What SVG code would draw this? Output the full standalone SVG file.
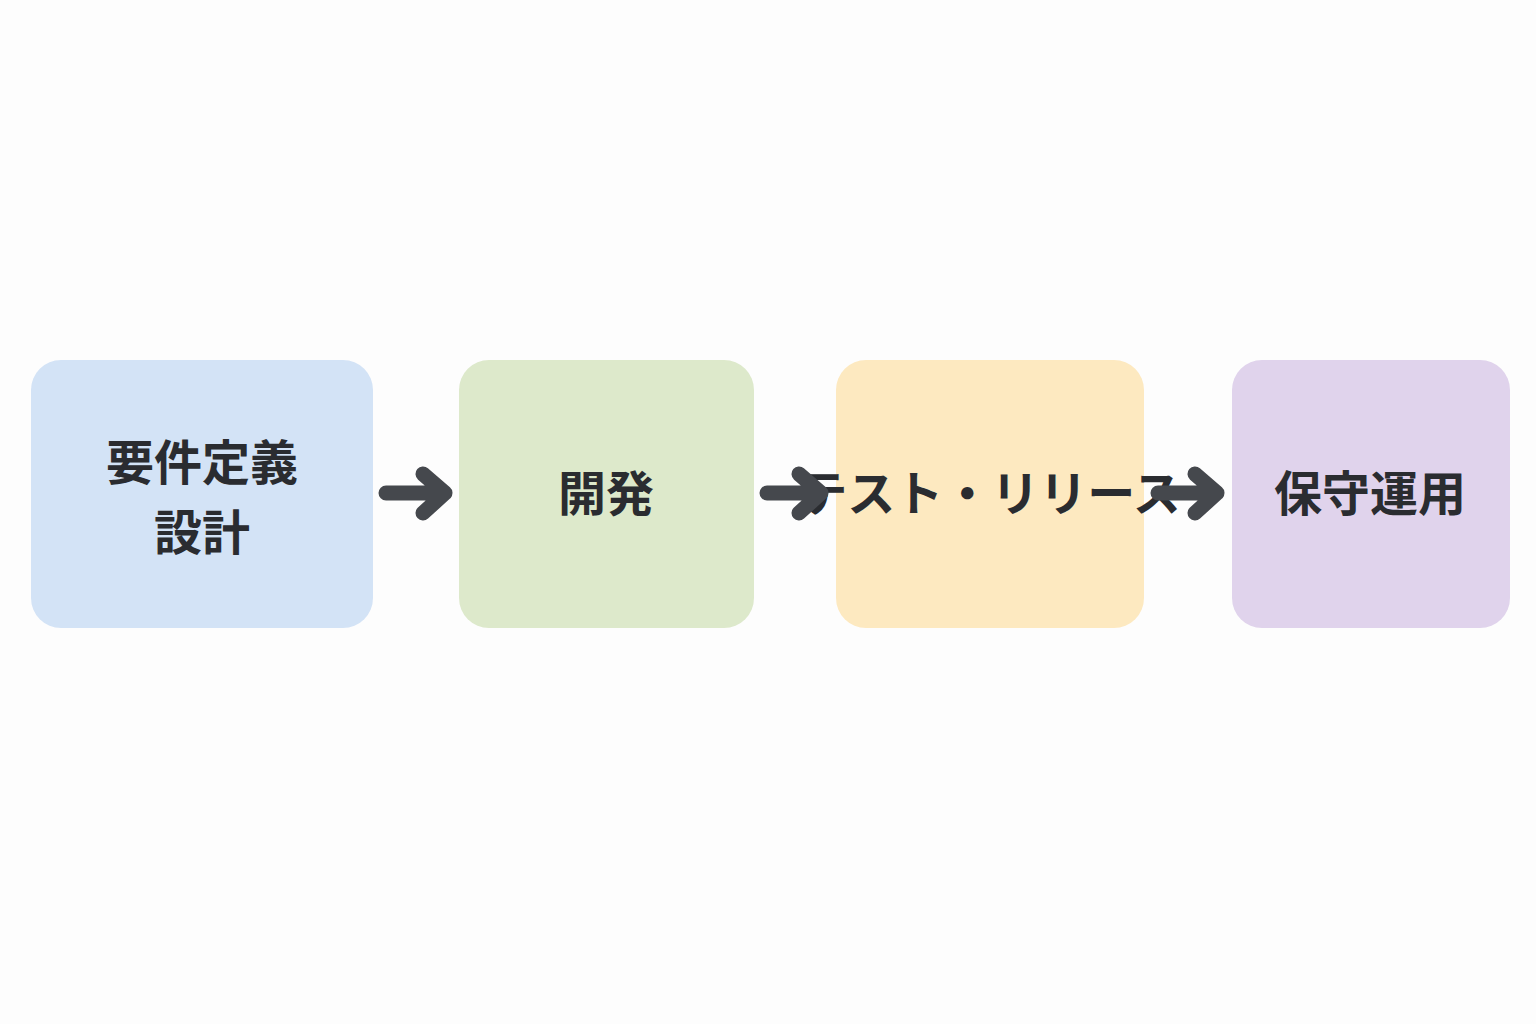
<svg xmlns="http://www.w3.org/2000/svg" width="1536" height="1024" viewBox="0 0 1536 1024">
<style>
.t{font-family:"Noto Sans CJK JP","Noto Sans CJK SC",sans-serif;font-weight:bold;font-size:48px;fill:#2a2c30;text-anchor:middle}
.a{stroke:#45484d;stroke-width:15;fill:none;stroke-linecap:round;stroke-linejoin:round}
</style>
<rect width="1536" height="1024" fill="#fdfdfd"/>
<g id="n1"><rect x="31" y="360" width="342" height="268" rx="30" fill="#d3e3f6"/><text class="t" x="202" y="480">要件定義</text><text class="t" x="202" y="550">設計</text></g>
<g id="n2"><rect x="459" y="360" width="295" height="268" rx="30" fill="#dde9cb"/><text class="t" x="606" y="511">開発</text></g>
<g id="n3"><rect x="836" y="360" width="308" height="268" rx="30" fill="#fde9c0"/><text class="t" x="990" y="511" font-size="44">テスト・リリース</text></g>
<g id="n4"><rect x="1232" y="360" width="278" height="268" rx="30" fill="#e0d3ec"/><text class="t" x="1370" y="511">保守運用</text></g>
<g id="connectors">
<path class="a" d="M386 493H440M423 474L445 493L423 513"/>
<path class="a" d="M767 493H816M799 474L821 493L799 513"/>
<path class="a" d="M1158 493H1212M1195 474L1217 493L1195 513"/>
</g>
</svg>
